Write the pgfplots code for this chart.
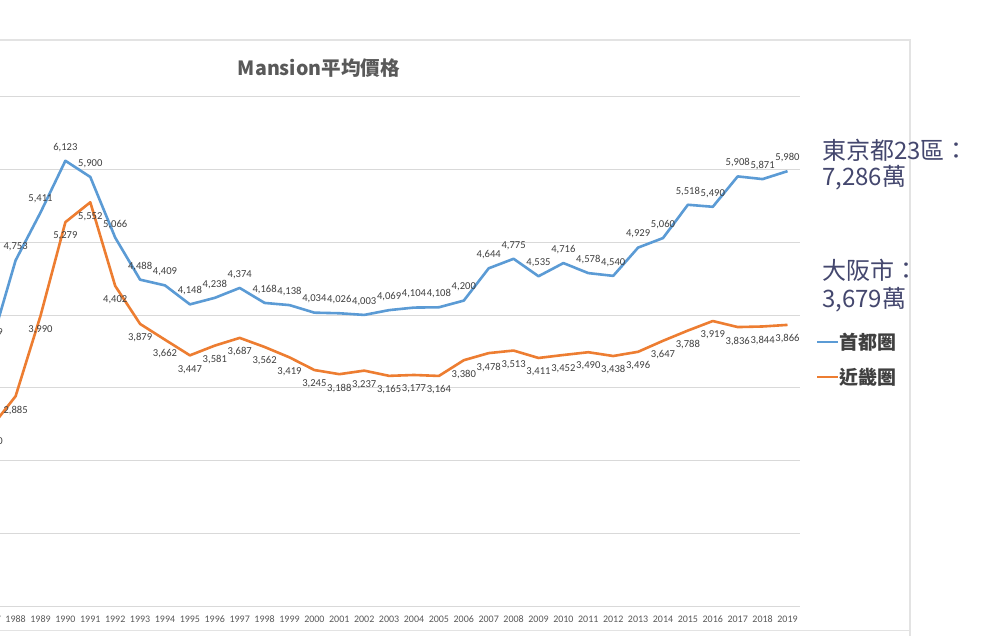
\documentclass[border=0pt]{standalone}
\usepackage{fontspec}
\setmainfont{Carlito}
\newfontfamily\cjk{Noto Sans CJK TC}
\usepackage{pgfplots}
\pgfplotsset{compat=1.18}
\usepackage{pgfplotstable}
\definecolor{sblue}{HTML}{5B9BD5}
\definecolor{sorange}{HTML}{ED7D31}
\definecolor{gridc}{HTML}{D9D9D9}
\definecolor{txt}{HTML}{404040}
\definecolor{ticktxt}{HTML}{595959}
\definecolor{annot}{HTML}{44476E}
\definecolor{framec}{HTML}{E3E3E3}

\pgfplotstableread{
year val
1987 3579
1988 4753
1989 5411
1990 6123
1991 5900
1992 5066
1993 4488
1994 4409
1995 4148
1996 4238
1997 4374
1998 4168
1999 4138
2000 4034
2001 4026
2002 4003
2003 4069
2004 4104
2005 4108
2006 4200
2007 4644
2008 4775
2009 4535
2010 4716
2011 4578
2012 4540
2013 4929
2014 5060
2015 5518
2016 5490
2017 5908
2018 5871
2019 5980
}\shutoken

\pgfplotstableread{
year val
1987 2450
1988 2885
1989 3990
1990 5279
1991 5552
1992 4402
1993 3879
1994 3662
1995 3447
1996 3581
1997 3687
1998 3562
1999 3419
2000 3245
2001 3188
2002 3237
2003 3165
2004 3177
2005 3164
2006 3380
2007 3478
2008 3513
2009 3411
2010 3452
2011 3490
2012 3438
2013 3496
2014 3647
2015 3788
2016 3919
2017 3836
2018 3844
2019 3866
}\kinki

\begin{document}
\begin{tikzpicture}
\useasboundingbox (0pt,0pt) rectangle (1000pt,635pt);
\begin{scope}
\clip (0pt,0pt) rectangle (1000pt,635pt);
\fill[white] (0pt,0pt) rectangle (1000pt,635pt);
% chart frame
\draw[framec, line width=1.5pt] (-5pt,595pt) -- (910pt,595pt) -- (910pt,-5pt);
\draw[framec, line width=1pt] (-5pt,5pt) -- (910pt,5pt);

\begin{axis}[
  at={(-21.75pt,29pt)}, anchor=south west,
  width=821.7pt, height=509pt, scale only axis,
  xmin=1986.5, xmax=2019.5, ymin=0, ymax=7000,
  axis x line*=bottom, axis y line*=left,
  y axis line style={draw=none},
  x axis line style={gridc, line width=1pt, -},
  ymajorgrids, grid style={gridc, line width=1pt},
  xtick={1987,1988,...,2019},
  ytick={0,1000,...,7000}, yticklabels={},
  major tick length=0pt,
  /pgf/number format/assume math mode=true,
  xticklabel style={anchor=center, yshift=-13pt, text=ticktxt,
     font=\fontsize{10}{12}\selectfont, /pgf/number format/1000 sep={}},
  clip=false,
]
\addplot[sblue, line width=2.6pt, line join=round,
  nodes near coords={\pgfmathprintnumber[1000 sep={,}]{\pgfplotspointmeta}},
  every node near coord/.append style={anchor=center, yshift=13.5pt, text=txt,
     font=\fontsize{10.6}{12}\selectfont, inner sep=0pt}]
  table[x=year, y=val] {\shutoken};
\addplot[sorange, line width=2.6pt, line join=round,
  nodes near coords={\pgfmathprintnumber[1000 sep={,}]{\pgfplotspointmeta}},
  every node near coord/.append style={anchor=center, yshift=-14pt, text=txt,
     font=\fontsize{10.6}{12}\selectfont, inner sep=0pt}]
  table[x=year, y=val] {\kinki};
\end{axis}

% title
\node[text=ticktxt, font=\cjk\bfseries\fontsize{19.6}{22}\selectfont, inner sep=0pt]
  at (319pt,567pt) {Mansion平均價格};

% annotations
\node[anchor=west, text=annot, font=\cjk\fontsize{24}{28}\selectfont, inner sep=0pt]
  at (822pt,485pt) {東京都23區：};
\node[anchor=west, text=annot, font=\cjk\fontsize{24}{28}\selectfont, inner sep=0pt]
  at (822pt,457pt) {7,286萬};
\node[anchor=west, text=annot, font=\cjk\fontsize{24}{28}\selectfont, inner sep=0pt]
  at (822pt,365pt) {大阪市：};
\node[anchor=west, text=annot, font=\cjk\fontsize{24}{28}\selectfont, inner sep=0pt]
  at (822pt,335pt) {3,679萬};

% legend
\draw[sblue, line width=2.5pt] (817pt,293pt) -- (838pt,293pt);
\node[anchor=west, text=txt, font=\cjk\bfseries\fontsize{19}{22}\selectfont, inner sep=0pt]
  at (839pt,293pt) {首都圏};
\draw[sorange, line width=2.5pt] (817pt,258pt) -- (838pt,258pt);
\node[anchor=west, text=txt, font=\cjk\bfseries\fontsize{19}{22}\selectfont, inner sep=0pt]
  at (839pt,258pt) {近畿圏};
\end{scope}
\end{tikzpicture}
\end{document}
